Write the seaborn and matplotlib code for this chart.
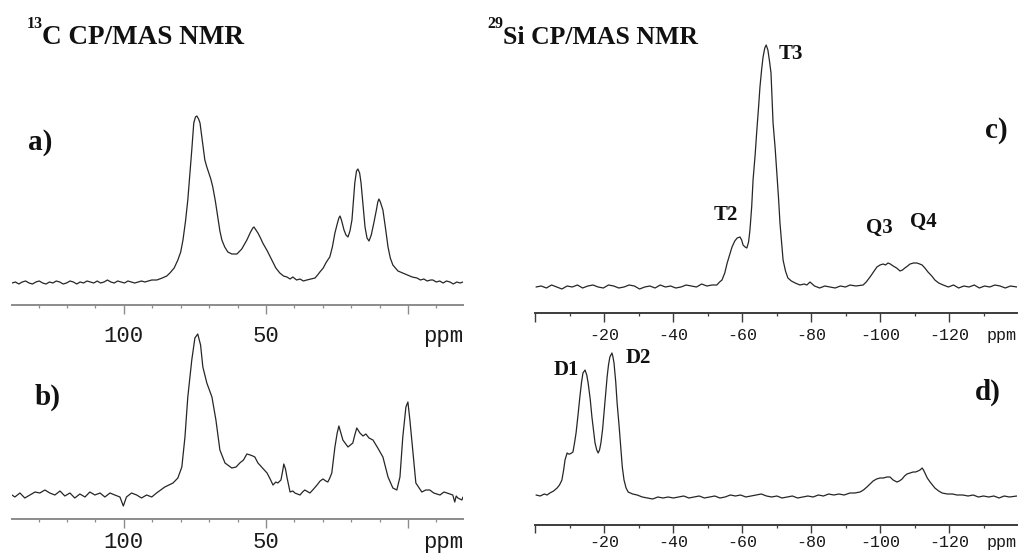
import matplotlib
matplotlib.use("Agg")
import matplotlib.pyplot as plt
import pandas as pd
import seaborn as sns

# ---------------- 13C CP/MAS spectra (ppm, intensity) ----------------
a_ppm = [139.4, 138.2, 137.0, 135.8, 134.6, 133.4, 132.2, 131.0, 129.8, 128.6,
         127.4, 126.2, 125.0, 123.8, 122.6, 121.4, 120.2, 119.0, 117.8, 116.6,
         115.4, 114.2, 113.0, 111.8, 110.6, 109.4, 108.2, 107.0, 105.8, 104.6,
         103.4, 102.2, 101.0, 99.8, 98.6, 97.4, 96.2, 95.0, 93.8, 92.6,
         91.4, 90.2, 88.4, 86.5, 84.9, 83.8, 82.3, 81.0, 80.0, 79.2,
         78.3, 77.5, 76.8, 76.1, 75.4, 74.8, 74.3, 73.7, 73.2, 72.3,
         71.5, 70.8, 70.1, 69.4, 68.7, 67.8, 66.9, 66.2, 65.5, 64.5,
         63.4, 62.0, 60.2, 58.5, 56.7, 55.4, 54.6, 54.2, 53.5, 52.8,
         51.9, 51.1, 49.5, 47.9, 46.5, 45.1, 43.8, 42.6, 41.5, 40.5,
         39.2, 38.0, 36.8, 35.6, 34.2, 32.7, 31.8, 31.0, 29.8, 28.9,
         28.0, 27.5, 26.6, 25.7, 24.8, 24.3, 23.9, 23.4, 22.5, 21.8,
         21.1, 20.4, 19.7, 19.2, 18.7, 18.1, 17.6, 17.0, 16.5, 15.8,
         15.1, 14.4, 13.7, 12.9, 12.0, 11.1, 10.6, 10.2, 9.7, 8.8,
         7.9, 7.0, 6.2, 5.3, 3.5, 1.8, 0.0, -1.5, -3.2, -4.4,
         -5.6, -6.8, -8.0, -8.8, -10.0, -11.2, -12.4, -13.6, -14.8, -16.0,
         -17.2, -18.4, -19.4]
a_int = [0, 1, -1, 1, 2, 0, -1, 1, 2, 0,
         -1, 1, 0, 2, 1, -1, 0, 2, 1, -1,
         1, 0, 2, 1, 0, 2, 0, 1, 3, 1,
         0, 2, 1, 0, 2, 1, 0, 1, 2, 1,
         2, 3, 3, 5, 7, 10, 15, 23, 31, 43,
         62, 83, 108, 133, 160, 166, 167, 164, 160, 140,
         123, 116, 110, 104, 96, 82, 65, 52, 43, 36,
         31, 29, 29, 34, 43, 51, 55, 56, 53, 50,
         45, 40, 32, 23, 15, 10, 7, 6, 4, 6,
         3, 4, 2, 3, 4, 5, 8, 11, 15, 20,
         24, 26, 36, 50, 60, 65, 67, 63, 53, 48,
         46, 52, 63, 82, 100, 112, 114, 110, 100, 78,
         56, 45, 42, 48, 60, 73, 81, 84, 81, 73,
         55, 36, 25, 18, 12, 10, 8, 6, 5, 3,
         4, 2, 3, 3, 1, 2, 0, 2, 1, -1,
         1, 0, 1]

b_ppm = [139.4, 138.4, 136.6, 134.9, 133.1, 131.3, 129.6, 127.8, 126.1, 124.3,
         122.5, 120.8, 119.0, 117.3, 115.5, 113.7, 112.0, 110.2, 108.4, 106.7,
         104.9, 103.2, 101.4, 100.2, 99.1, 97.3, 95.5, 93.8, 92.0, 90.2,
         88.5, 85.6, 82.7, 81.0, 79.6, 78.5, 77.5, 76.1, 75.0, 74.0,
         73.0, 72.2, 70.8, 69.0, 67.6, 66.2, 64.4, 62.0, 60.5, 59.2,
         57.9, 56.7, 55.5, 54.6, 53.9, 52.8, 51.2, 49.6, 48.5, 47.5,
         46.5, 45.8, 44.7, 44.1, 43.7, 43.1, 42.6, 41.5, 40.5, 39.8,
         38.0, 37.1, 36.3, 34.5, 33.2, 32.0, 30.9, 29.9, 28.9, 28.2,
         27.5, 26.8, 25.7, 24.9, 24.3, 23.6, 22.9, 21.1, 19.4, 18.7,
         18.0, 16.9, 15.8, 14.8, 13.7, 12.3, 10.6, 8.8, 7.9, 7.0,
         5.3, 3.9, 2.8, 1.8, 0.7, 0.0, -0.7, -1.8, -2.8, -4.9,
         -6.3, -7.7, -9.1, -11.3, -12.7, -14.8, -15.8, -16.5, -17.0, -17.6,
         -19.0, -19.4]
b_int = [0, -2, 2, -3, 0, 3, 2, 5, 2, 0,
         4, -1, 2, -3, 1, -2, 3, 0, 2, -2,
         2, 0, -2, -11, -2, 2, 0, -3, 0, -2,
         2, 8, 12, 17, 28, 58, 98, 135, 157, 161,
         150, 128, 112, 98, 75, 45, 32, 27, 28, 32,
         35, 41, 40, 39, 38, 32, 27, 22, 16, 10,
         13, 12, 15, 24, 31, 26, 18, 3, 4, 2,
         0, 3, 5, 2, 6, 10, 14, 16, 14, 13,
         17, 22, 48, 62, 69, 62, 55, 48, 52, 60,
         67, 62, 59, 61, 57, 55, 47, 38, 28, 18,
         7, 5, 18, 58, 88, 93, 75, 42, 12, 3,
         5, 5, 2, 0, 3, 1, 0, -7, -1, -3,
         -5, -2]

# ---------------- 29Si CP/MAS spectra (ppm, intensity) ----------------
c_ppm = [-0.3, -1.8, -3.3, -4.8, -6.3, -7.8, -9.3, -10.8, -12.3, -13.8,
         -15.3, -16.8, -18.3, -19.8, -21.3, -22.8, -24.3, -25.8, -27.3, -28.8,
         -30.3, -31.8, -33.3, -34.8, -36.3, -37.8, -39.3, -40.8, -42.3, -43.8,
         -45.3, -46.8, -48.3, -49.8, -51.3, -52.7, -53.5, -54.2, -55.0, -55.7,
         -56.4, -57.1, -57.9, -58.6, -59.4, -59.9, -60.3, -60.9, -61.4, -61.9,
         -62.3, -62.8, -63.2, -63.8, -64.3, -64.8, -65.2, -65.7, -66.1, -66.6,
         -67.0, -67.5, -68.0, -68.4, -68.7, -69.0, -69.6, -70.1, -70.6, -71.0,
         -71.5, -71.9, -72.6, -73.3, -74.3, -75.4, -76.8, -78.0, -78.8, -79.7,
         -81.0, -82.5, -84.0, -85.5, -87.0, -88.5, -90.0, -91.3, -93.0, -95.1,
         -96.0, -97.1, -98.1, -99.1, -100.0, -100.9, -101.6, -102.3, -103.0, -103.8,
         -104.8, -105.8, -106.5, -107.2, -108.0, -108.7, -109.7, -110.7, -111.5, -112.2,
         -113.0, -113.9, -115.0, -115.9, -117.0, -118.3, -119.8, -121.3, -122.8, -124.3,
         -125.8, -127.3, -128.8, -130.3, -131.8, -133.3, -134.8, -136.3, -137.8, -139.7]
c_int = [0, 1, -1, 2, 0, -2, 1, 0, 2, -1,
         1, 2, 0, -1, 2, 1, -1, 0, 2, 1,
         -2, 0, 1, -1, 2, 0, 1, -1, 0, 2,
         1, 0, 3, 1, 2, 2, 5, 7, 14, 24,
         32, 40, 46, 49, 50, 47, 42, 40, 39, 45,
         57, 80, 107, 132, 157, 180, 200, 218, 230, 239,
         242, 237, 225, 214, 190, 164, 139, 114, 88, 64,
         44, 27, 16, 9, 6, 4, 2, 3, 2, 5,
         1, -1, 1, 0, -1, 1, 0, 2, 1, 2,
         5, 10, 15, 20, 22, 23, 22, 24, 23, 21,
         19, 16, 17, 19, 21, 23, 24, 24, 23, 22,
         19, 15, 11, 7, 4, 2, 0, 2, -1, 1,
         0, 2, -1, 1, 0, 2, 1, -1, 1, 0]

d_ppm = [-0.3, -1.5, -2.7, -3.5, -4.3, -5.4, -6.4, -7.1, -7.8, -8.3,
         -8.7, -9.3, -9.7, -10.1, -10.6, -11.0, -11.5, -11.9, -12.5, -13.0,
         -13.5, -13.9, -14.5, -15.0, -15.4, -16.0, -16.5, -17.0, -17.4, -17.9,
         -18.3, -18.7, -19.1, -19.6, -20.0, -20.5, -20.9, -21.3, -21.7, -22.3,
         -22.6, -22.9, -23.4, -23.8, -24.4, -24.9, -25.3, -25.8, -26.4, -27.0,
         -28.3, -29.6, -31.1, -32.6, -34.1, -35.6, -37.1, -38.6, -40.1, -41.6,
         -43.1, -44.6, -46.1, -47.6, -49.1, -50.6, -52.1, -53.6, -55.1, -56.6,
         -58.1, -59.6, -61.1, -62.6, -64.1, -65.6, -67.1, -68.6, -70.1, -71.6,
         -73.1, -74.6, -76.1, -77.6, -79.1, -80.6, -82.1, -83.6, -85.1, -86.6,
         -88.1, -89.6, -91.3, -92.7, -94.2, -95.2, -96.2, -97.1, -98.0, -99.0,
         -100.0, -101.0, -102.0, -102.9, -103.8, -104.9, -105.6, -106.4, -107.1, -107.8,
         -108.7, -109.6, -110.3, -111.0, -111.6, -112.2, -112.6, -113.0, -113.7, -114.5,
         -115.2, -115.9, -117.0, -118.0, -119.5, -121.0, -122.3, -124.0, -125.5, -127.0,
         -128.5, -130.0, -131.5, -133.0, -134.5, -136.0, -137.5, -139.7]
d_int = [2, 1, 3, 2, 4, 6, 9, 12, 17, 27,
         37, 44, 43, 43, 44, 45, 55, 64, 83, 100,
         115, 124, 127, 122, 114, 98, 80, 66, 54, 47,
         44, 47, 54, 68, 84, 103, 120, 132, 140, 144,
         140, 134, 115, 94, 70, 47, 30, 17, 9, 5,
         3, 2, 0, -1, -2, 0, -1, 0, -1, 0,
         1, -1, 0, 1, -1, 0, 1, -1, 0, 2,
         1, 2, 0, 1, 2, 3, 1, 0, 1, -1,
         0, 1, -1, 0, 1, 0, 2, 1, 3, 2,
         3, 2, 4, 4, 5, 7, 10, 13, 16, 18,
         19, 19, 20, 20, 17, 15, 16, 18, 21, 23,
         24, 25, 25, 26, 27, 29, 27, 24, 19, 15,
         12, 9, 6, 4, 3, 3, 2, 2, 1, 2,
         0, 1, 0, 1, -1, 1, 0, 1]

# Axis ticks and labels
c_major = [100, 50, 0, -12.3]
c_major_labels = ["100", "50", "", "ppm"]
si_major = [0, -20, -40, -60, -80, -100, -120, -135.1]
si_major_labels = ["", "-20", "-40", "-60", "-80", "-100", "-120", "ppm"]

# Peak assignments: (text, ppm, intensity)
c_peaks = [("T2", -55.4, 72), ("T3", -74.2, 233), ("Q3", -99.7, 59), ("Q4", -112.5, 65)]
d_peaks = [("D1", -9.0, 127), ("D2", -29.9, 139)]

sns.set_style("white")
plt.rcParams["font.family"] = ["Liberation Serif", "DejaVu Sans"]

W, H = 1018, 556
fig = plt.figure(figsize=(W / 100, H / 100), dpi=100)


def axes_px(left, right, top, bottom):
    return fig.add_axes([left / W, 1 - bottom / H, (right - left) / W, (bottom - top) / H])


def spectrum(ax, ppm, inten, xlim, ylim, ticks, labels, spine_col, tick_fs, pad, tlen):
    df = pd.DataFrame({"ppm": ppm, "intensity": inten})
    sns.lineplot(data=df, x="ppm", y="intensity", ax=ax, sort=False,
                 estimator=None, color="#262626", linewidth=0.9)
    ax.set(xlabel="", ylabel="")
    ax.set_xlim(*xlim)
    ax.set_ylim(*ylim)
    ax.set_yticks([])
    for s in ("left", "right", "top"):
        ax.spines[s].set_visible(False)
    ax.spines["bottom"].set_color(spine_col)
    ax.spines["bottom"].set_linewidth(1.4)
    ax.set_xticks(ticks)
    ax.set_xticklabels(labels)
    ax.set_xticks(range(int(max(xlim)) // 10 * 10, int(min(xlim)) - 1, -10), minor=True)
    ax.tick_params(axis="x", which="major", bottom=True, direction="out", length=tlen,
                   width=1.0, color=spine_col, labelsize=tick_fs, labelcolor="#1a1a1a",
                   pad=pad)
    ax.tick_params(axis="x", which="minor", bottom=True, direction="out", length=2.2,
                   width=0.9, color=spine_col)
    for lbl in ax.get_xticklabels():
        lbl.set_fontfamily("Liberation Mono")
    # the "ppm" unit sits on the axis without a tick mark
    ax.xaxis.get_major_ticks()[-1].tick1line.set_markersize(0)
    ax.patch.set_alpha(0)


ax_a = axes_px(12, 463, 100, 305)
spectrum(ax_a, a_ppm, a_int, (139.4, -19.4), (-22, 183), c_major, c_major_labels,
         "#8c8c8c", 16, 8.5, 6.5)
ax_b = axes_px(12, 463, 320, 519)
spectrum(ax_b, b_ppm, b_int, (139.4, -19.4), (-24, 175), c_major, c_major_labels,
         "#8c8c8c", 16, 3.0, 6.5)
ax_c = axes_px(535, 1017, 40, 313)
spectrum(ax_c, c_ppm, c_int, (0, -139.7), (-26, 247), si_major, si_major_labels,
         "#3c3c3c", 12, 4.2, 6.5)
ax_d = axes_px(535, 1017, 340, 525)
spectrum(ax_d, d_ppm, d_int, (0, -139.7), (-28, 157), si_major, si_major_labels,
         "#3c3c3c", 12, 1.5, 6.0)

bold = dict(fontfamily="Liberation Serif", fontweight="bold", color="#111111")

# panel letters
ax_a.text(129.6, 141, "a)", ha="center", va="center", fontsize=21, clip_on=False, **bold)
ax_b.text(126.8, 98, "b)", ha="center", va="center", fontsize=21, clip_on=False, **bold)
ax_c.text(-133.6, 156, "c)", ha="center", va="center", fontsize=21, clip_on=False, **bold)
ax_d.text(-131.1, 105, "d)", ha="center", va="center", fontsize=21, clip_on=False, **bold)

for txt, x, y in c_peaks:
    ax_c.text(x, y, txt, ha="center", va="center", fontsize=15, clip_on=False, **bold)
for txt, x, y in d_peaks:
    ax_d.text(x, y, txt, ha="center", va="center", fontsize=15, clip_on=False, **bold)

# headings with isotope superscripts
fig.text(27 / W, 1 - 28.5 / H, "13", ha="left", va="baseline", fontsize=11.5, **bold)
fig.text(42 / W, 1 - 43.5 / H, "C CP/MAS NMR", ha="left", va="baseline", fontsize=19.5, **bold)
fig.text(487 / W, 1 - 28.5 / H, "29", ha="left", va="baseline", fontsize=11.5, **bold)
fig.text(503 / W, 1 - 43.5 / H, "Si CP/MAS NMR", ha="left", va="baseline", fontsize=18.5, **bold)

fig.savefig("out.png", dpi=100)
